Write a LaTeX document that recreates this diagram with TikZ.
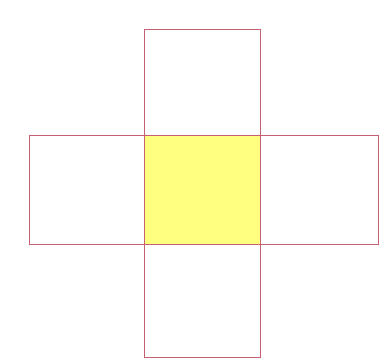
\documentclass[tikz,border=0pt]{standalone}
\definecolor{edge}{RGB}{196,96,112}
\definecolor{fillyel}{RGB}{255,255,128}
\tikzset{cell/.style={draw=edge,line width=1pt}}
\begin{document}
\begin{tikzpicture}[x=1pt,y=-1pt]
\useasboundingbox[fill=white] (0,0) rectangle (386,360);
\fill[fillyel] (144.5,135.5) rectangle (260,244);
\draw[cell] (144.5,29.5) rectangle (260,357.5);
\draw[cell] (29,135.5) rectangle (378,244);
\end{tikzpicture}
\end{document}
